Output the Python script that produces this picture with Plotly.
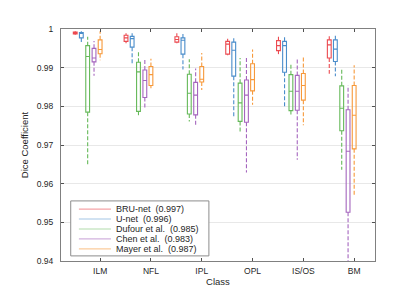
import plotly.graph_objects as go

classes = ["ILM", "NFL", "IPL", "OPL", "IS/OS", "BM"]
series_names = ["BRU-net  (0.997)", "U-net  (0.996)", "Dufour et al.  (0.985)",
                "Chen et al.  (0.983)", "Mayer et al.  (0.987)"]

# per class: [lower whisker, q1, median, q3, upper whisker]
bru = [[0.9985, 0.9987, 0.9990, 0.9992, 0.9994],
       [0.9963, 0.9968, 0.9977, 0.9984, 0.9989],
       [0.9963, 0.9966, 0.9973, 0.9980, 0.9989],
       [0.9932, 0.9935, 0.9961, 0.9968, 0.9975],
       [0.9935, 0.9944, 0.9957, 0.9970, 0.9980],
       [0.9884, 0.9925, 0.9959, 0.9972, 0.9981]]
unet = [[0.9966, 0.9977, 0.9989, 0.9991, 0.9994],
        [0.9911, 0.9953, 0.9975, 0.9981, 0.9989],
        [0.9895, 0.9935, 0.9971, 0.9977, 0.9989],
        [0.9773, 0.9878, 0.9945, 0.9966, 0.9980],
        [0.9799, 0.9888, 0.9957, 0.9968, 0.9981],
        [0.9878, 0.9916, 0.9948, 0.9972, 0.9983]]
dufour = [[0.9646, 0.9785, 0.9929, 0.9957, 0.9980],
          [0.9777, 0.9787, 0.9889, 0.9914, 0.9941],
          [0.9761, 0.9780, 0.9834, 0.9883, 0.9922],
          [0.9734, 0.9761, 0.9809, 0.9860, 0.9925],
          [0.9777, 0.9789, 0.9839, 0.9882, 0.9908],
          [0.9636, 0.9737, 0.9795, 0.9853, 0.9899]]
chen = [[0.9879, 0.9915, 0.9925, 0.9950, 0.9969],
        [0.9797, 0.9823, 0.9867, 0.9894, 0.9921],
        [0.9752, 0.9778, 0.9829, 0.9862, 0.9898],
        [0.9629, 0.9759, 0.9829, 0.9868, 0.9925],
        [0.9662, 0.9790, 0.9839, 0.9880, 0.9921],
        [0.9300, 0.9526, 0.9684, 0.9791, 0.9854]]
mayer = [[0.9919, 0.9936, 0.9947, 0.9972, 0.9994],
         [0.9847, 0.9854, 0.9882, 0.9903, 0.9923],
         [0.9842, 0.9863, 0.9870, 0.9903, 0.9938],
         [0.9804, 0.9840, 0.9869, 0.9910, 0.9947],
         [0.9751, 0.9816, 0.9854, 0.9885, 0.9927],
         [0.9567, 0.9690, 0.9777, 0.9854, 0.9906]]

y_ticks = [0.94, 0.95, 0.96, 0.97, 0.98, 0.99, 1.0]
y_ticktext = ["0.94", "0.95", "0.96", "0.97", "0.98", "0.99", "1"]

all_data = [bru, unet, dufour, chen, mayer]
colors = ["#EC4A50", "#4A8DCB", "#66B95A", "#A566BE", "#F7993A"]
legend_colors = ["rgba(236,74,80,0.5)", "rgba(74,141,203,0.5)", "rgba(102,185,90,0.5)",
                 "rgba(165,102,190,0.5)", "rgba(247,153,58,0.5)"]
offsets = [-0.49, -0.37, -0.245, -0.12, 0.0]

fig = go.Figure()
for data, col, off in zip(all_data, colors, offsets):
    xs = [i + off for i in range(len(classes))]
    q1 = [d[1] for d in data]
    med = [d[2] for d in data]
    q3 = [d[3] for d in data]
    fig.add_trace(go.Box(x=xs, q1=q1, median=med, q3=q3, lowerfence=q1, upperfence=q3,
                         width=0.075, whiskerwidth=0, line=dict(color=col, width=1.1),
                         fillcolor="rgba(0,0,0,0)", showlegend=False, boxpoints=False,
                         hoverinfo="skip"))
    wx, wy = [], []
    for x, d in zip(xs, data):
        wx += [x, x, None, x, x, None]
        wy += [d[3], d[4], None, d[1], d[0], None]
    fig.add_trace(go.Scatter(x=wx, y=wy, mode="lines", showlegend=False,
                             line=dict(color=col, width=1.1, dash="4px,2px"),
                             hoverinfo="skip"))

# custom compact legend (paper coordinates)
leg_x0, leg_x1, leg_top, leg_bot = 0.031, 0.471, 0.259, 0.022
line_x0, line_x1, text_x = 0.057, 0.159, 0.168
row_top, row_step = 0.224, 0.043
shapes = [dict(type="rect", xref="paper", yref="paper", x0=leg_x0, x1=leg_x1,
               y0=leg_bot, y1=leg_top, line=dict(color="#8c8c8c", width=1),
               fillcolor="white", layer="above")]
annotations = []
for k, (name, lc) in enumerate(zip(series_names, legend_colors)):
    yy = row_top - k * row_step
    shapes.append(dict(type="line", xref="paper", yref="paper", x0=line_x0, x1=line_x1,
                       y0=yy, y1=yy, line=dict(color=lc, width=1.2), layer="above"))
    annotations.append(dict(xref="paper", yref="paper", x=text_x, y=yy,
                            text=name.replace("  ", "\u00a0 "),
                            showarrow=False, xanchor="left", yanchor="middle",
                            font=dict(size=9, color="#262626")))

font_family = "Liberation Sans, Arial, sans-serif"
fig.update_layout(
    width=407, height=287,
    margin=dict(l=53, r=40, t=21, b=34, autoexpand=False),
    paper_bgcolor="white", plot_bgcolor="white",
    font=dict(family=font_family, size=8, color="#262626"),
    showlegend=False,
    shapes=shapes, annotations=annotations,
    xaxis=dict(range=[-0.77, 5.41], tickvals=list(range(len(classes))), ticktext=classes,
               showline=True, linecolor="#808080", linewidth=1, mirror="ticks",
               ticks="inside", ticklen=3, tickcolor="#505050", showgrid=False,
               zeroline=False, automargin=False, ticklabelstandoff=2,
               tickfont=dict(size=8.5),
               title=dict(text="Class", font=dict(size=9.5, color="#262626"), standoff=1)),
    yaxis=dict(range=[0.94, 1.0], tickvals=y_ticks, ticktext=y_ticktext,
               showline=True, linecolor="#808080", linewidth=1, mirror="ticks",
               ticks="inside", ticklen=3, tickcolor="#505050",
               showgrid=True, gridcolor="#e8e8e8", gridwidth=1, zeroline=False,
               automargin=False, ticklabelstandoff=5, tickfont=dict(size=8.5),
               title=dict(text="Dice Coefficient", font=dict(size=9.5, color="#262626"),
                          standoff=6)),
)

fig.write_html("out.html")
